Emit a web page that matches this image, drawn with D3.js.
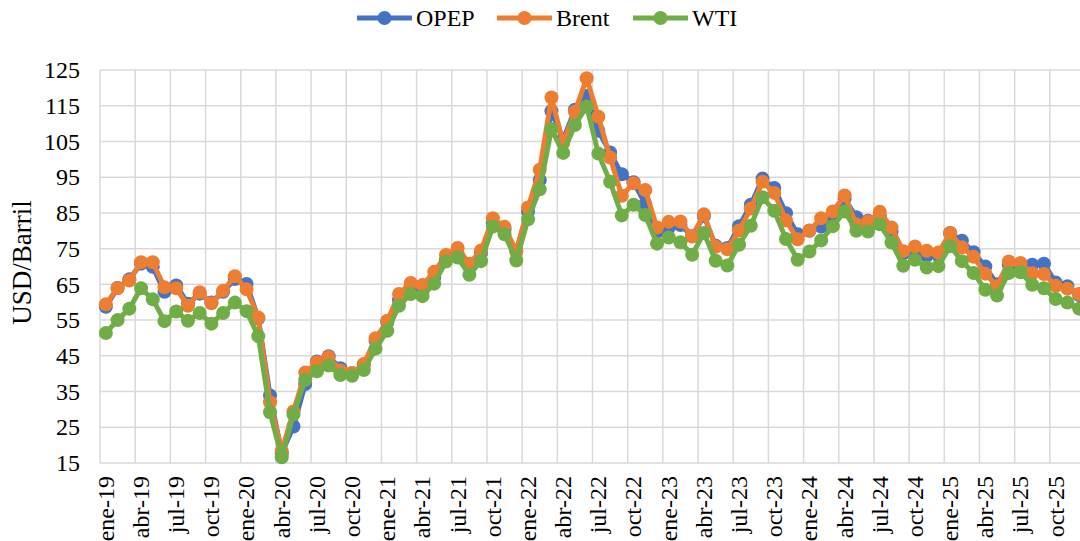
<!DOCTYPE html>
<html>
<head>
<meta charset="utf-8">
<script src="https://cdn.jsdelivr.net/npm/d3@7"></script>
<style>
  html, body { margin: 0; padding: 0; background: #fff; overflow: hidden; }
  svg { display: block; }
  text { font-family: "Liberation Serif", "Times New Roman", serif; fill: #000; }
</style>
</head>
<body>
<svg id="chart" width="1080" height="541"></svg>
<script>
// ---- data ----
const monthNames = ["ene","feb","mar","abr","may","jun","jul","ago","sep","oct","nov","dic"];
const years = ["19","20","21","22","23","24","25"];
const seriesNames = ["OPEP", "Brent", "WTI"];
const seriesColors = ["#4472C4", "#ED7D31", "#70AD47"];
const yTicks = [15, 25, 35, 45, 55, 65, 75, 85, 95, 105, 115, 125];

const opep = [
  58.7, 64.0, 66.4, 70.8, 69.9, 62.9, 64.7, 59.6, 62.4, 59.9, 62.9, 66.5,
  65.1, 55.5, 33.9, 17.7, 25.2, 37.1, 43.4, 44.9, 41.5, 40.1, 42.6, 49.2,
  54.4, 60.6, 64.6, 63.2, 66.9, 71.9, 73.5, 70.3, 73.9, 82.1, 80.4, 74.4,
  85.4, 94.2, 113.5, 105.6, 113.9, 117.7, 108.0, 101.9, 95.8, 93.6, 87.5, 79.7,
  80.9, 81.6, 78.5, 84.1, 75.8, 75.2, 81.3, 87.3, 94.6, 92.0, 84.9, 79.0,
  80.0, 81.2, 84.4, 89.0, 83.8, 82.8, 84.0, 79.8, 73.7, 74.6, 73.0, 73.1,
  79.4, 77.2, 74.0, 70.0, 65.0, 70.5, 70.3, 70.5, 70.8, 65.5, 64.5, 62.0
];
const brent = [
  59.4, 64.0, 66.1, 71.2, 71.2, 64.2, 63.9, 59.0, 62.8, 59.7, 63.2, 67.3,
  63.6, 55.7, 32.0, 18.4, 29.4, 40.3, 43.2, 44.7, 40.9, 40.2, 42.7, 49.9,
  54.8, 62.3, 65.4, 64.8, 68.5, 73.2, 75.2, 70.8, 74.5, 83.5, 81.1, 74.2,
  86.5, 97.1, 117.3, 104.6, 113.3, 122.7, 111.9, 100.5, 89.8, 93.3, 91.4, 80.9,
  82.5, 82.6, 78.4, 84.6, 75.5, 74.8, 80.1, 86.2, 93.7, 90.6, 82.9, 77.6,
  80.1, 83.5, 85.4, 89.9, 81.8, 82.6, 85.3, 80.9, 74.3, 75.6, 74.4, 73.9,
  79.3, 75.4, 72.7, 68.0, 64.5, 71.4, 71.0, 68.1, 67.9, 64.6, 63.8, 62.3
];
const wti = [
  51.4, 55.0, 58.2, 63.9, 60.8, 54.7, 57.4, 54.8, 57.0, 54.0, 57.0, 59.9,
  57.5, 50.5, 29.2, 16.6, 28.6, 38.3, 40.7, 42.3, 39.6, 39.4, 41.0, 47.0,
  52.0, 59.0, 62.3, 61.7, 65.2, 71.4, 72.5, 67.7, 71.5, 81.2, 79.0, 71.7,
  83.2, 91.6, 108.5, 101.8, 109.6, 114.8, 101.6, 93.7, 84.3, 87.3, 84.4, 76.4,
  78.1, 76.8, 73.3, 79.4, 71.6, 70.3, 76.1, 81.4, 89.4, 85.6, 77.7, 71.9,
  74.2, 77.3, 81.3, 85.4, 80.0, 79.8, 81.8, 76.7, 70.2, 71.9, 69.7, 70.1,
  75.7, 71.5, 68.2, 63.5, 61.9, 68.2, 68.4, 64.9, 63.9, 60.9, 59.9, 58.2
];

// categories built from month names and years
const categories = [];
years.forEach(y => monthNames.forEach(m => categories.push(m + "-" + y)));
const seriesValues = [opep, brent, wti];

// ---- layout ----
const svg = d3.select("#chart");
const plotLeft = 100, plotRight = 1085, plotTop = 70, plotBottom = 463;
const font = "Liberation Serif, Times New Roman, serif";

const x = d3.scaleBand().domain(categories).range([plotLeft, plotRight]).padding(0);
const y = d3.scaleLinear().domain([15, 125]).range([plotBottom, plotTop]);

// gridlines
const grid = svg.append("g");
grid.selectAll("line.h").data(yTicks).join("line")
  .attr("x1", plotLeft).attr("x2", plotRight)
  .attr("y1", d => y(d)).attr("y2", d => y(d))
  .attr("stroke", "#d9d9d9").attr("stroke-width", 1.5);
const vCats = categories.filter((c, i) => i % 3 === 0);
grid.selectAll("line.v").data(vCats).join("line")
  .attr("x1", d => x(d)).attr("x2", d => x(d))
  .attr("y1", plotTop).attr("y2", plotBottom)
  .attr("stroke", "#d9d9d9").attr("stroke-width", 1.5);

// y axis
const yAxis = svg.append("g").attr("transform", `translate(${plotLeft - 20},0)`)
  .call(d3.axisLeft(y).tickValues(yTicks).tickSize(0).tickPadding(0).tickFormat(d3.format("d")));
yAxis.select(".domain").remove();
yAxis.selectAll("text").style("font-family", font).style("font-size", "24px").attr("fill", "#000");

// x axis
const xAxis = svg.append("g").attr("transform", `translate(0,${plotBottom})`)
  .call(d3.axisBottom(x).tickValues(vCats).tickSize(0));
xAxis.select(".domain").remove();
xAxis.selectAll("text")
  .style("font-family", font).style("font-size", "24px").attr("fill", "#000")
  .attr("transform", "rotate(-90)")
  .attr("text-anchor", "end")
  .attr("x", -13).attr("y", 0).attr("dy", "0.33em");

// y axis title
svg.append("text")
  .attr("transform", `translate(31,${(plotTop + plotBottom) / 2 - 4}) rotate(-90)`)
  .attr("text-anchor", "middle")
  .style("font-family", font).style("font-size", "27px")
  .text("USD/Barril");

// series
const line = d3.line().x((d, i) => x(categories[i]) + x.bandwidth() / 2).y(d => y(d));
seriesValues.forEach((vals, si) => {
  const g = svg.append("g");
  g.append("path").datum(vals)
    .attr("d", line)
    .attr("fill", "none")
    .attr("stroke", seriesColors[si])
    .attr("stroke-width", 5)
    .attr("stroke-linejoin", "round");
  g.selectAll("circle").data(vals).join("circle")
    .attr("cx", (d, i) => x(categories[i]) + x.bandwidth() / 2)
    .attr("cy", d => y(d))
    .attr("r", 7)
    .attr("fill", seriesColors[si]);
});

// legend
const legendX = [357, 497, 633];
const legend = svg.append("g");
seriesNames.forEach((name, i) => {
  const lx = legendX[i], ly = 18;
  legend.append("line").attr("x1", lx).attr("x2", lx + 55).attr("y1", ly).attr("y2", ly)
    .attr("stroke", seriesColors[i]).attr("stroke-width", 5);
  legend.append("circle").attr("cx", lx + 27.5).attr("cy", ly).attr("r", 7).attr("fill", seriesColors[i]);
  legend.append("text").attr("x", lx + 59).attr("y", ly + 8)
    .style("font-family", font).style("font-size", "24px").text(name);
});
</script>
</body>
</html>
